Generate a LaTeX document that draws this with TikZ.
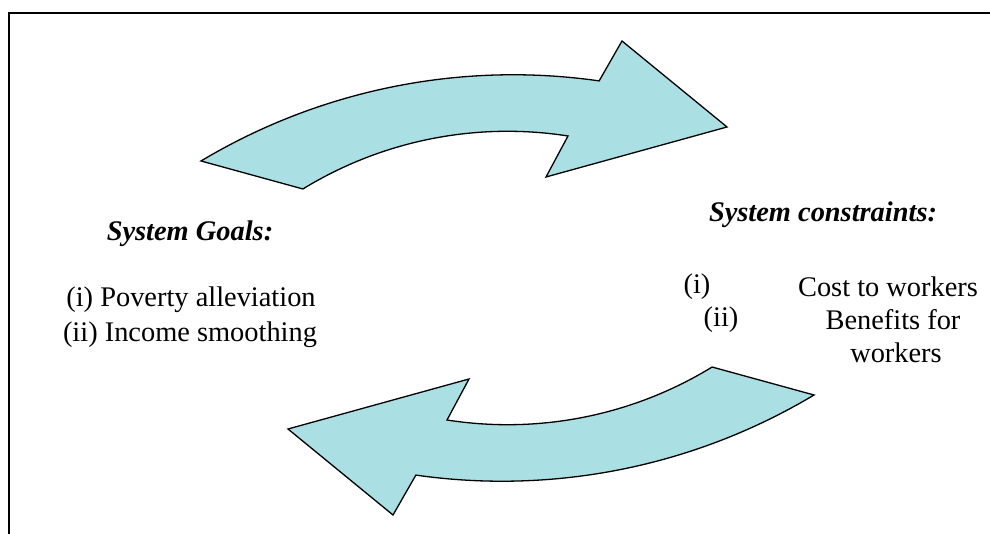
\documentclass[tikz,border=0pt]{standalone}
\usepackage{fontspec}
\setmainfont{Liberation Serif}
\usepackage{amsmath}
\usepackage{tikz}

\definecolor{arrowfill}{RGB}{170,223,227}

\begin{document}
\begin{tikzpicture}[x=0.5pt,y=0.5pt,
  bigarrow/.style={draw=black,line width=0.65pt,fill=arrowfill,line join=miter},
  label/.style={inner sep=0pt,font=\fontsize{14.2}{17}\selectfont},
  title/.style={label,font=\fontsize{14.2}{17}\selectfont\bfseries\itshape}]
\useasboundingbox (0,0) rectangle (990,534);
\draw[line width=1pt] (9,0) -- (9,521) -- (990,521);
% the two curved arrows, the second one turned half round
\foreach \r in {0,180}
  \draw[bigarrow,rotate around={\r:(507.5,256)}] (201,373)
    arc[start angle=120.9,end angle=81.85,radius=607.6]
    -- (622,493) -- (727,407) -- (546,357) -- (568,398)
    arc[start angle=81.1,end angle=121.5,radius=391.5] -- cycle;
\node[title] (goals) at (190,300) {System Goals:};
\node[label] (goal1) at (191,234) {(i) Poverty alleviation};
\node[label] (goal2) at (190,199) {(ii) Income smoothing};
\node[title] (limits) at (823,319) {System constraints:};
\node[label] (num1) at (697,247) {(i)};
\node[label] (limit1) at (888,247) {Cost to workers};
\node[label] (num2) at (721,214) {(ii)};
\node[label] (limit2) at (893,214) {Benefits for};
\node[label] (limit2b) at (896,181) {workers};
\end{tikzpicture}
\end{document}
